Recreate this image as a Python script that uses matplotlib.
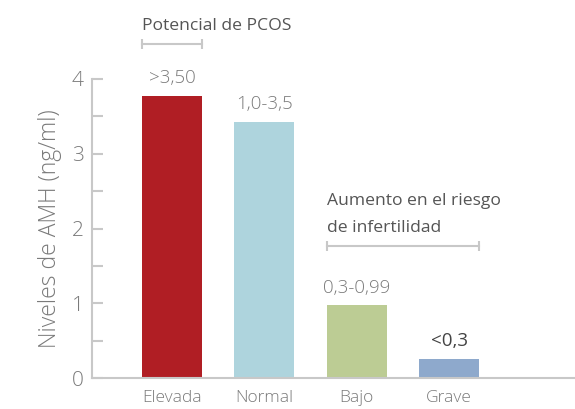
import matplotlib.pyplot as plt

# Data
categories = ["Elevada", "Normal", "Bajo", "Grave"]
values = [3.77, 3.43, 0.97, 0.25]
range_labels = [">3,50", "1,0-3,5", "0,3-0,99", "<0,3"]
colors = ["#B01E24", "#AED4DD", "#BCCC94", "#8EA9CC"]
yticks = [0, 1, 2, 3, 4]

spine_color = "#C8C8C8"
tick_text = "#7A7A7A"
note_text = "#555555"
font = ["Open Sans", "DejaVu Sans"]

plt.rcParams['font.family'] = font

fig = plt.figure(figsize=(5.75, 4.09), dpi=100)
ax = fig.add_axes([92 / 575, 31 / 409, 1 - 92 / 575, (378 - 79) / 409])

x = list(range(len(categories)))
ax.bar(x, values, width=0.65, color=colors, zorder=2)

ax.set_xlim(-0.865, 4.36)
ax.set_ylim(0, 4)

for side in ["top", "right"]:
    ax.spines[side].set_visible(False)
for side in ["left", "bottom"]:
    ax.spines[side].set_color(spine_color)
    ax.spines[side].set_linewidth(1.5)

ax.set_yticks(yticks)
ax.set_yticks([0.5, 1.5, 2.5, 3.5], minor=True)
ax.tick_params(axis="y", which="both", direction="in", length=8, width=1.5,
               color=spine_color, labelsize=15, labelcolor=tick_text, pad=6)
ax.set_xticks(x)
ax.set_xticklabels(categories)
ax.tick_params(axis="x", length=0, labelsize=12.5, labelcolor=tick_text, pad=9)
for lbl in ax.get_yticklabels() + ax.get_xticklabels():
    lbl.set_fontweight("light")

ax.set_ylabel("Niveles de AMH (ng/ml)", fontsize=16.5, color=tick_text,
              fontweight="light", labelpad=7)

# value range labels above bars
for i, (v, lab) in enumerate(zip(values, range_labels)):
    weight = "normal" if i == 3 else "light"
    col = "#444444" if i == 3 else tick_text
    ax.text(i, v + 0.12, lab, ha="center", va="bottom", fontsize=13.5,
            color=col, fontweight=weight, clip_on=False)

# brackets
def bracket(x0, x1, y):
    ax.plot([x0, x1], [y, y], color=spine_color, lw=1.5, clip_on=False,
            marker="|", markersize=7, markeredgewidth=1.5)

bracket(-0.325, 0.325, 4.47)
ax.text(-0.325, 4.71, "Potencial de PCOS", ha="left", va="center",
        fontsize=12.6, color=note_text, clip_on=False)

bracket(1.675, 3.325, 1.76)
ax.text(1.675, 2.37, "Aumento en el riesgo", ha="left", va="center",
        fontsize=12.6, color=note_text, clip_on=False)
ax.text(1.675, 2.01, "de infertilidad", ha="left", va="center",
        fontsize=12.6, color=note_text, clip_on=False)

fig.savefig("out.png", dpi=100)
